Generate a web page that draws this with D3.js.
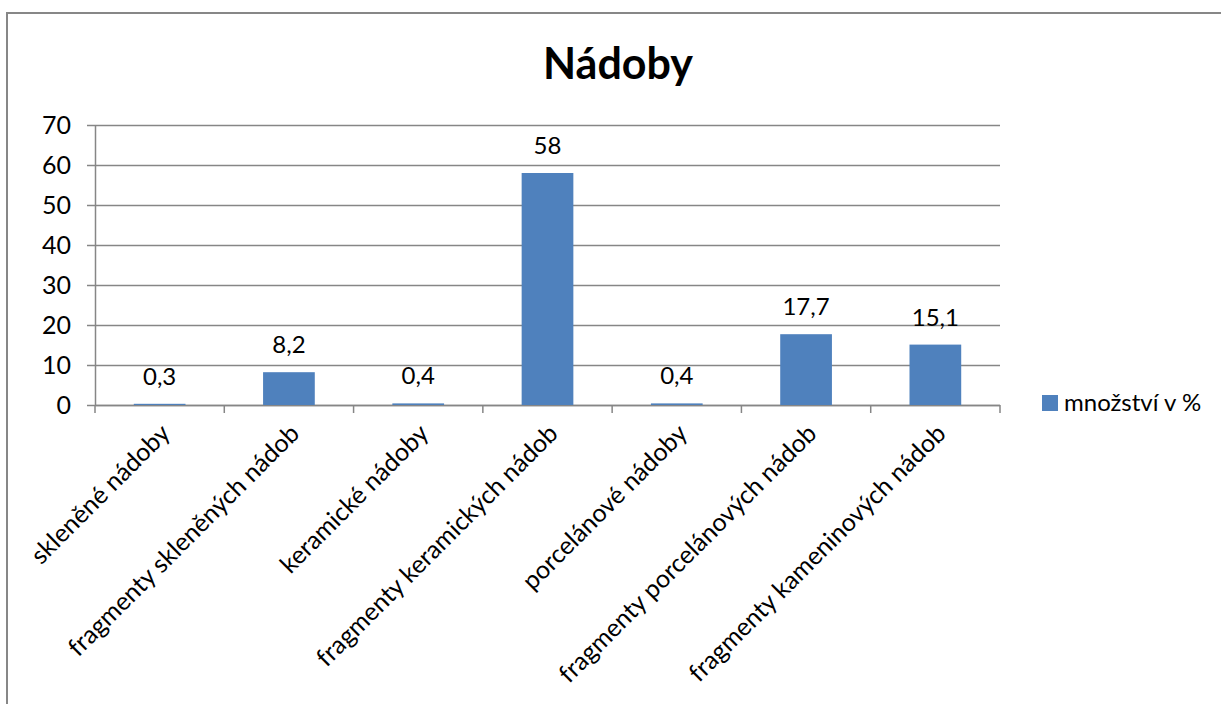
<!DOCTYPE html>
<html>
<head>
<meta charset="utf-8">
<script src="https://cdn.jsdelivr.net/npm/d3@7"></script>
<style>
  body { margin: 0; background: #fff; }
  svg { font-family: Lato, "Open Sans", sans-serif; }
</style>
</head>
<body>
<svg id="chart" width="1221" height="704"></svg>
<script>
const categories = [
  "skleněné nádoby",
  "fragmenty skleněných nádob",
  "keramické nádoby",
  "fragmenty keramických nádob",
  "porcelánové nádoby",
  "fragmenty porcelánových nádob",
  "fragmenty kameninových nádob"
];
const values = [0.3, 8.2, 0.4, 58, 0.4, 17.7, 15.1];
const yTicks = [0, 10, 20, 30, 40, 50, 60, 70];
const seriesName = "množství v %";
const chartTitle = "Nádoby";

const svg = d3.select('#chart');
const margin = { left: 95, right: 221, top: 125, bottom: 299 };
const width = 1221, height = 704;
const barColor = '#4f81bd';
const gridColor = '#868686';

// outer frame (only top and left edges are visible in the window)
svg.append('rect')
  .attr('x', 7).attr('y', 13)
  .attr('width', 1300).attr('height', 800)
  .attr('fill', 'none')
  .attr('stroke', '#878787')
  .attr('stroke-width', 2);

const x = d3.scaleBand()
  .domain(categories)
  .range([margin.left, width - margin.right])
  .paddingInner(0.6)
  .paddingOuter(0.3);

const y = d3.scaleLinear()
  .domain([0, 70])
  .range([height - margin.bottom, margin.top]);

// gridlines
svg.append('g')
  .selectAll('line')
  .data(yTicks)
  .enter()
  .append('line')
  .attr('x1', margin.left - 8)
  .attr('x2', width - margin.right)
  .attr('y1', d => Math.round(y(d)) + 0.5)
  .attr('y2', d => Math.round(y(d)) + 0.5)
  .attr('stroke', gridColor)
  .attr('stroke-width', 1.5);

// y axis
const yAxis = svg.append('g')
  .attr('transform', `translate(${margin.left},0)`)
  .call(d3.axisLeft(y).tickValues(yTicks).tickSize(0).tickPadding(24));
yAxis.select('.domain').attr('stroke', gridColor).attr('stroke-width', 1.5);
yAxis.selectAll('text')
  .attr('font-size', 25)
  .attr('fill', '#000')
  .style('font-family', 'Lato, sans-serif');

// x axis with boundary ticks
const xBound = d3.range(categories.length + 1).map(i => margin.left + i * (width - margin.left - margin.right) / categories.length);
const xAxisG = svg.append('g');
xAxisG.append('line')
  .attr('x1', margin.left).attr('x2', width - margin.right)
  .attr('y1', y(0) + 0.5).attr('y2', y(0) + 0.5)
  .attr('stroke', gridColor).attr('stroke-width', 1.5);
xAxisG.selectAll('.xt')
  .data(xBound)
  .enter()
  .append('line')
  .attr('x1', d => d).attr('x2', d => d)
  .attr('y1', y(0)).attr('y2', y(0) + 8)
  .attr('stroke', gridColor).attr('stroke-width', 1.5);

// bars
svg.append('g')
  .selectAll('rect')
  .data(values)
  .enter()
  .append('rect')
  .attr('x', (d, i) => x(categories[i]))
  .attr('width', x.bandwidth())
  .attr('y', d => y(d))
  .attr('height', d => y(0) - y(d))
  .attr('fill', barColor);

// value labels
const fmt = v => String(v).replace('.', ',');
svg.append('g')
  .selectAll('text')
  .data(values)
  .enter()
  .append('text')
  .attr('x', (d, i) => x(categories[i]) + x.bandwidth() / 2)
  .attr('y', d => y(d) - 19)
  .attr('text-anchor', 'middle')
  .attr('font-size', 24)
  .attr('fill', '#000')
  .text(d => fmt(d));

// category labels
svg.append('g')
  .selectAll('text')
  .data(categories)
  .enter()
  .append('text')
  .attr('transform', d => `translate(${x(d) + x.bandwidth() / 2 + 12},${y(0) + 30}) rotate(-45)`)
  .attr('text-anchor', 'end')
  .attr('font-size', 25)
  .attr('fill', '#000')
  .text(d => d);

// title
svg.append('text')
  .attr('x', 618)
  .attr('y', 79)
  .attr('text-anchor', 'middle')
  .attr('font-size', 43)
  .attr('font-weight', 'bold')
  .attr('fill', '#000')
  .text(chartTitle);

// legend
const legend = svg.append('g').attr('transform', 'translate(1042,395)');
legend.append('rect')
  .attr('width', 16).attr('height', 16)
  .attr('fill', barColor);
legend.append('text')
  .attr('x', 22).attr('y', 16)
  .attr('font-size', 24)
  .attr('fill', '#000')
  .text(seriesName);
</script>
</body>
</html>
